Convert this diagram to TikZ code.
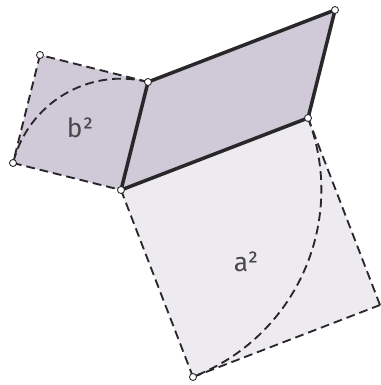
\documentclass[tikz,border=0pt]{standalone}
\usepackage{fontspec}
\setmainfont{Fira Sans}
\begin{document}
\begin{tikzpicture}[
    x=0.02cm, y=-0.02cm,
    sqfill/.style={fill=lavdark},
    bigfill/.style={fill=lavlight},
    edge/.style={line width=2pt,draw=edgecol,line join=round},
    dashedge/.style={line width=1.05pt,draw=edgecol,dash pattern=on 5pt off 2.8pt},
    pt/.style={circle,draw=edgecol,fill=white,line width=0.5pt,inner sep=0pt,minimum size=4pt},
    lbl/.style={font=\fontsize{15}{15}\selectfont,text=edgecol!85}
]
\definecolor{lavdark}{RGB}{208,202,216}
\definecolor{lavlight}{RGB}{237,234,240}
\definecolor{edgecol}{RGB}{40,40,42}
\useasboundingbox (0,0) rectangle (381,385);
% corners
\coordinate (A) at (40,55);
\coordinate (B) at (148,82);
\coordinate (C) at (121,190);
\coordinate (D) at (13,163);
\coordinate (E) at (335,10);
\coordinate (F) at (308,118);
\coordinate (G) at (380,305);
\coordinate (H) at (193,377);
% fills
\fill[bigfill] (C) -- (F) -- (G) -- (H) -- cycle;
\fill[sqfill] (A) -- (B) -- (C) -- (D) -- cycle;
\fill[sqfill] (B) -- (E) -- (F) -- (C) -- cycle;
% arcs
\draw[dashedge] (B) arc[start angle=-76, end angle=-166, radius=111.3];
\draw[dashedge] (F) arc[start angle=-21, end angle=69, radius=200.4];
% dashed sides
\draw[dashedge] (B) -- (A);
\draw[dashedge] (A) -- (D);
\draw[dashedge] (D) -- (C);
\draw[dashedge] (C) -- (H);
\draw[dashedge] (H) -- (G);
\draw[dashedge] (G) -- (F);
% parallelogram
\draw[edge] (B) -- (E) -- (F) -- (C) -- cycle;
% labels
\node[lbl] (bsq) at (80,128) {b²};
\node[lbl] (asq) at (246,262) {a²};
% vertex dots
\foreach \p in {A,B,C,D,E,F,H}
  \node[pt] (dot\p) at (\p) {};
\end{tikzpicture}
\end{document}
